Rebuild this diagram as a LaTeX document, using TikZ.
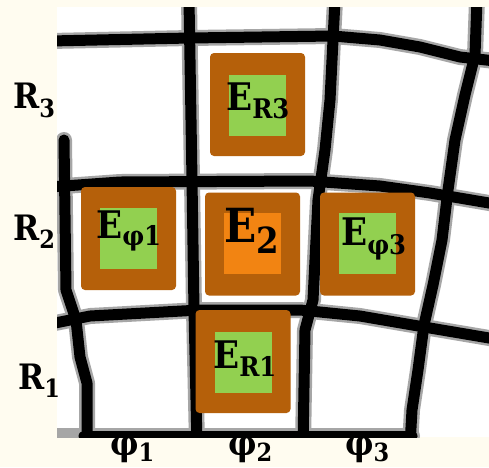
\documentclass[tikz,border=0pt]{standalone}
\usepackage{fontspec}
\setmainfont{DejaVu Serif Condensed}
\definecolor{bgcream}{RGB}{255,252,240}
\definecolor{boxbrown}{RGB}{181,96,10}
\definecolor{boxgreen}{RGB}{146,208,80}
\definecolor{boxorange}{RGB}{242,132,18}
\newcommand{\elab}[5]{\bfseries\fontsize{#3}{#3}\selectfont #1\raisebox{-#5}{\fontsize{#4}{#4}\selectfont #2}}
\tikzset{
  halo/.style={line width=16pt, draw=black!35, line join=round, line cap=round},
  ink/.style={line width=11pt, draw=black, line join=round, line cap=round},
  outerbox/.style={fill=boxbrown, rounded corners=4pt, minimum width=95pt, minimum height=103pt, inner sep=0pt},
  innerbox/.style={minimum width=57pt, minimum height=61pt, inner sep=0pt},
  txt/.style={anchor=base west, inner sep=0pt, text=black}
}
\begin{document}
\begin{tikzpicture}[x=1pt,y=-1pt]
\fill[bgcream] (0,0) rectangle (489,467);
\useasboundingbox (0,0) rectangle (489,467);
\fill[white] (57,7) rectangle (489,437);
\begin{scope}
\clip (57,7) rectangle (489,437);
\draw[halo] (50,436) -- (82,436);
\foreach \st in {halo,ink}{
  % horizontal lines
  \draw[\st] (50,41) -- (190,38) -- (333,36) -- (380,40) -- (420,47) -- (460,57) -- (495,61);
  \draw[\st] (50,187) -- (120,182) -- (310,181) -- (380,186) -- (430,193) -- (495,204);
  \draw[\st] (50,324) -- (90,316) -- (200,310) -- (300,310) -- (360,316) -- (430,328) -- (495,339);
  \draw[\st] (84,436) -- (412,436);
  % vertical lines
  \draw[\st] (64,140) -- (66,290) -- (76,320) -- (80,357) -- (87,383) -- (87,445);
  \draw[\st] (189,0) -- (192,180) -- (194,310) -- (197,445);
  \draw[\st] (335,0) -- (330,100) -- (325,150) -- (318,200) -- (313,300) -- (305,330) -- (303,445);
  \draw[\st] (477,0) -- (475,55) -- (465,95) -- (455,140) -- (448,190) -- (442,240) -- (433,285) -- (424,325) -- (418,370) -- (412,410) -- (410,445);
}
\end{scope}
% boxes
\node[outerbox] (bR3) at (257.5,104.5) {};
\node[innerbox, fill=boxgreen] (gR3) at (257.5,105) {};
\node[outerbox] (bP1) at (128.5,238.5) {};
\node[innerbox, fill=boxgreen] (gP1) at (128.5,238.5) {};
\node[outerbox] (b2) at (252.5,244) {};
\node[innerbox, fill=boxorange] (g2) at (252.5,243.5) {};
\node[outerbox] (bP3) at (367.5,244) {};
\node[innerbox, fill=boxgreen] (gP3) at (367.5,243.5) {};
\node[outerbox] (bR1) at (243,361.5) {};
\node[innerbox, fill=boxgreen] (gR1) at (243.5,362) {};
% box texts
\node[txt] (tR3) at (226,110) {\elab{E}{R3}{38pt}{27pt}{8pt}};
\node[txt] (tP1) at (96,238) {\elab{E}{φ1}{38pt}{27pt}{7pt}};
\node[txt] (t2) at (224,242) {\elab{E}{2}{47pt}{36pt}{11pt}};
\node[txt] (tP3) at (341,245) {\elab{E}{φ3}{38pt}{27pt}{9pt}};
\node[txt] (tR1) at (213,368) {\elab{E}{R1}{38pt}{27pt}{8pt}};
% axis labels
\node[txt] (lR3) at (13,108) {\elab{R}{3}{35pt}{25pt}{9pt}};
\node[txt] (lR2) at (13,240) {\elab{R}{2}{35pt}{25pt}{8pt}};
\node[txt] (lR1) at (18,389) {\elab{R}{1}{35pt}{25pt}{8pt}};
\node[txt] (lP1) at (110,455) {\elab{φ}{1}{35pt}{25pt}{6pt}};
\node[txt] (lP2) at (228,455) {\elab{φ}{2}{35pt}{25pt}{6pt}};
\node[txt] (lP3) at (345,455) {\elab{φ}{3}{35pt}{25pt}{6pt}};
\end{tikzpicture}
\end{document}
